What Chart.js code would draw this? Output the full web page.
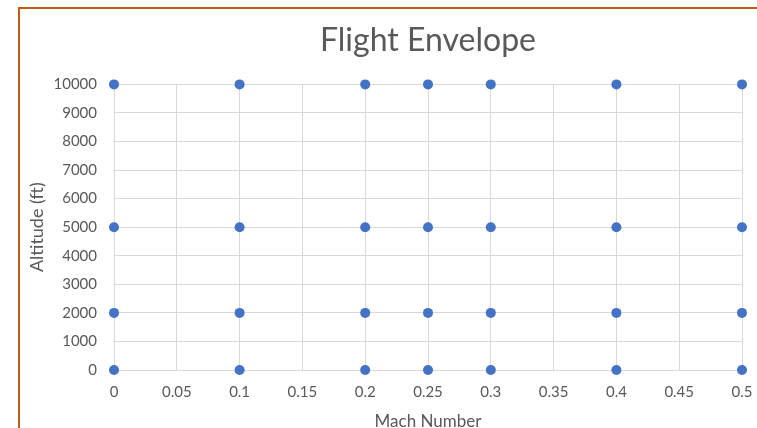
<!DOCTYPE html>
<html>
<head>
<meta charset="utf-8">
<script src="https://cdn.jsdelivr.net/npm/chart.js@4/dist/chart.umd.min.js"></script>
<style>
  html, body { margin: 0; padding: 0; background: #ffffff; overflow: hidden; }
  #wrap { position: relative; width: 757px; height: 428px; }
  #frame { position: absolute; left: 18px; top: 7px; right: 0; bottom: 0;
           border-top: 2px solid #C55A11; border-left: 2px solid #C55A11; pointer-events: none; }
  canvas { position: absolute; left: 0; top: 0; }
</style>
</head>
<body>
<div id="wrap">
  <canvas id="c" width="757" height="428"></canvas>
  <div id="frame"></div>
</div>
<script>
// ---- data ----
const machValues = [
  0, 0.1, 0.2, 0.25, 0.3, 0.4, 0.5,
  0, 0.1, 0.2, 0.25, 0.3, 0.4, 0.5,
  0, 0.1, 0.2, 0.25, 0.3, 0.4, 0.5,
  0, 0.1, 0.2, 0.25, 0.3, 0.4, 0.5
];
const altitudeValues = [
  0, 0, 0, 0, 0, 0, 0,
  2000, 2000, 2000, 2000, 2000, 2000, 2000,
  5000, 5000, 5000, 5000, 5000, 5000, 5000,
  10000, 10000, 10000, 10000, 10000, 10000, 10000
];
const machTickLabels = ['0', '0.05', '0.1', '0.15', '0.2', '0.25', '0.3', '0.35', '0.4', '0.45', '0.5'];
const altitudeTickLabels = ['0', '1000', '2000', '3000', '4000', '5000', '6000', '7000', '8000', '9000', '10000'];
const chartTitle = 'Flight Envelope';
const xAxisTitle = 'Mach Number';
const yAxisTitle = 'Altitude (ft)';

const points = machValues.map((m, i) => ({ x: m, y: altitudeValues[i] }));

const FONT = 'Lato, "Open Sans", sans-serif';
const TXT = '#595959';
const GRID = '#d9d9d9';

new Chart(document.getElementById('c'), {
  type: 'scatter',
  data: {
    datasets: [{
      data: points,
      backgroundColor: '#4472C4',
      borderColor: '#4472C4',
      borderWidth: 0,
      pointRadius: 5,
      pointHoverRadius: 5,
      clip: false
    }]
  },
  options: {
    responsive: false,
    animation: false,
    events: [],
    layout: { padding: { top: 10, left: 25, right: 0, bottom: 0 } },
    plugins: {
      legend: { display: false },
      tooltip: { enabled: false },
      title: {
        display: true,
        fullSize: false,
        text: chartTitle,
        color: TXT,
        font: { family: FONT, size: 32, weight: 'normal' },
        padding: { top: 11, bottom: 25 }
      }
    },
    scales: {
      x: {
        type: 'linear',
        min: 0, max: 0.5,
        afterFit: s => { s.height = 58; s.paddingLeft = 0; s.paddingRight = 15; },
        ticks: {
          stepSize: 0.05,
          color: TXT,
          padding: 13,
          font: { family: FONT, size: 15 },
          maxRotation: 0,
          callback: (v, i) => machTickLabels[i]
        },
        grid: { color: GRID, lineWidth: 1, drawTicks: false },
        border: { color: GRID, width: 1 },
        title: {
          display: true, text: xAxisTitle, color: TXT,
          font: { family: FONT, size: 17 },
          padding: { top: 4, bottom: -4 }
        }
      },
      y: {
        type: 'linear',
        min: 0, max: 10000,
        afterFit: s => { s.width = 89; },
        ticks: {
          stepSize: 1000,
          color: TXT,
          padding: 17,
          font: { family: FONT, size: 15 },
          callback: (v, i) => altitudeTickLabels[i]
        },
        grid: { color: GRID, lineWidth: 1, drawTicks: false },
        border: { color: GRID, width: 1 },
        title: {
          display: true, text: yAxisTitle, color: TXT,
          font: { family: FONT, size: 18 },
          padding: { top: 1, bottom: 4 }
        }
      }
    }
  }
});
</script>
</body>
</html>
